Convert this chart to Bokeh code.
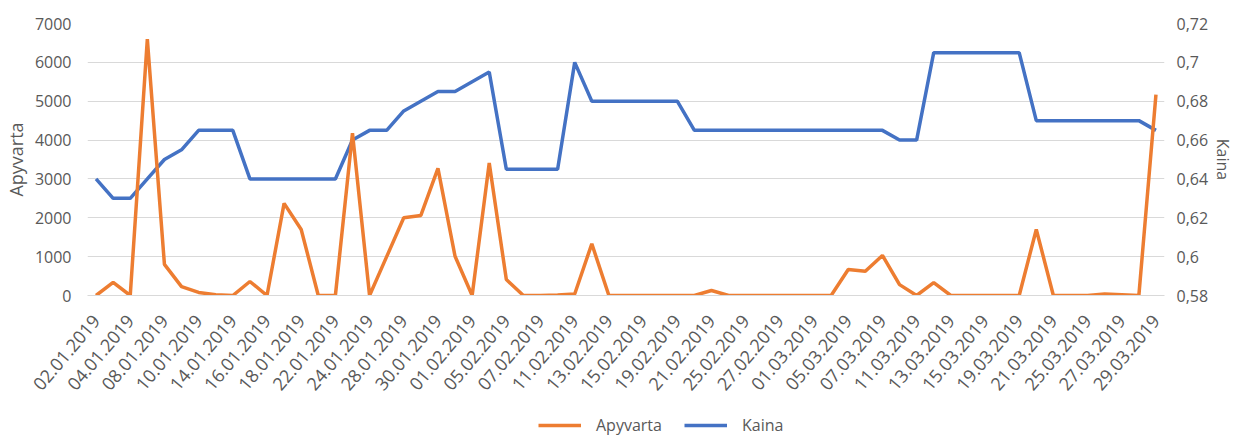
from bokeh.plotting import figure
from bokeh.layouts import column
from bokeh.models import (Range1d, LinearAxis, FixedTicker, CustomJSTickFormatter,
                          Legend, LegendItem, Title)
from bokeh.embed import file_html
from bokeh.resources import INLINE

dates = ["02.01.2019","03.01.2019","04.01.2019","07.01.2019","08.01.2019","09.01.2019",
         "10.01.2019","11.01.2019","14.01.2019","15.01.2019","16.01.2019","17.01.2019",
         "18.01.2019","21.01.2019","22.01.2019","23.01.2019","24.01.2019","25.01.2019",
         "28.01.2019","29.01.2019","30.01.2019","31.01.2019","01.02.2019","04.02.2019",
         "05.02.2019","06.02.2019","07.02.2019","08.02.2019","11.02.2019","12.02.2019",
         "13.02.2019","14.02.2019","15.02.2019","18.02.2019","19.02.2019","20.02.2019",
         "21.02.2019","22.02.2019","25.02.2019","26.02.2019","27.02.2019","28.02.2019",
         "01.03.2019","04.03.2019","05.03.2019","06.03.2019","07.03.2019","08.03.2019",
         "11.03.2019","12.03.2019","13.03.2019","14.03.2019","15.03.2019","18.03.2019",
         "19.03.2019","20.03.2019","21.03.2019","22.03.2019","25.03.2019","26.03.2019",
         "27.03.2019","28.03.2019","29.03.2019"]

apyvarta = [0, 340, 0, 6600, 800, 230, 80, 20, 0, 360,
            0, 2370, 1700, 0, 0, 4180, 0, 1000, 2000, 2060,
            3270, 1010, 0, 3410, 410, 0, 0, 10, 40, 1330,
            0, 0, 0, 0, 0, 0, 130, 0, 0, 0,
            0, 0, 0, 0, 670, 625, 1030, 280, 0, 330,
            0, 0, 0, 0, 0, 1700, 0, 0, 0, 40,
            20, 0, 5170]

kaina = [0.64, 0.63, 0.63, 0.64, 0.65, 0.655, 0.665, 0.665, 0.665, 0.64,
         0.64, 0.64, 0.64, 0.64, 0.64, 0.66, 0.665, 0.665, 0.675, 0.68,
         0.685, 0.685, 0.69, 0.695, 0.645, 0.645, 0.645, 0.645, 0.70, 0.68,
         0.68, 0.68, 0.68, 0.68, 0.68, 0.665, 0.665, 0.665, 0.665, 0.665,
         0.665, 0.665, 0.665, 0.665, 0.665, 0.665, 0.665, 0.66, 0.66, 0.705,
         0.705, 0.705, 0.705, 0.705, 0.705, 0.67, 0.67, 0.67, 0.67, 0.67,
         0.67, 0.67, 0.665]

left_ticks = [0, 1000, 2000, 3000, 4000, 5000, 6000, 7000]
right_ticks = [0.58, 0.60, 0.62, 0.64, 0.66, 0.68, 0.70, 0.72]
series_names = ["Apyvarta", "Kaina"]

ORANGE = "#ED7D31"
BLUE = "#4472C4"
GREY = "#595959"
FONT = "Open Sans"
LW = 3.5

x = list(range(len(dates)))

p = figure(width=1235, height=405, output_backend="svg", toolbar_location=None,
           x_range=Range1d(-0.5, len(dates) - 0.5),
           y_range=Range1d(left_ticks[0], left_ticks[-1]),
           min_border_left=79, min_border_right=68, min_border_top=23,
           min_border_bottom=110)
p.extra_y_ranges = {"kaina": Range1d(right_ticks[0], right_ticks[-1])}
p.outline_line_color = None
p.background_fill_color = "white"

p.line(x, kaina, y_range_name="kaina", line_color=BLUE, line_width=LW)
p.line(x, apyvarta, line_color=ORANGE, line_width=LW)

p.xgrid.grid_line_color = None
p.ygrid.grid_line_color = "#D9D9D9"
p.ygrid.grid_line_width = 1


def style(ax):
    ax.axis_line_color = None
    ax.major_tick_line_color = None
    ax.minor_tick_line_color = None
    ax.major_tick_out = 0
    ax.major_tick_in = 0
    ax.minor_tick_out = 0
    ax.minor_tick_in = 0
    ax.major_label_text_color = GREY
    ax.major_label_text_font = FONT
    ax.major_label_text_font_size = "16px"
    ax.axis_label_text_color = GREY
    ax.axis_label_text_font = FONT
    ax.axis_label_text_font_size = "18px"
    ax.axis_label_text_font_style = "normal"


ya = p.yaxis[0]
ya.ticker = FixedTicker(ticks=left_ticks)
ya.axis_label = series_names[0]
style(ya)
ya.major_label_standoff = 16
ya.axis_label_standoff = 4

ra = LinearAxis(y_range_name="kaina",
                ticker=FixedTicker(ticks=right_ticks),
                formatter=CustomJSTickFormatter(
                    code="return tick.toFixed(2).replace(/0$/, '').replace('.', ',');"))
style(ra)
ra.major_label_standoff = 12
p.add_layout(ra, "right")
p.add_layout(Title(text=series_names[1], align="center", text_font=FONT,
                   text_font_size="16px", text_color=GREY, text_font_style="normal",
                   standoff=0, offset=0), "right")

xa = p.xaxis[0]
xa.ticker = FixedTicker(ticks=x[::2])
xa.major_label_overrides = {i: dates[i] for i in x[::2]}
style(xa)
xa.axis_line_color = "#D9D9D9"
xa.major_label_orientation = 0.87
xa.major_label_standoff = 22
xa.major_label_text_font_size = "18px"

# legend strip below the chart (its lines lie outside its own y range, so only
# the legend swatches show)
lg = figure(width=1235, height=32, output_backend="svg", toolbar_location=None,
            x_range=Range1d(-0.5, len(dates) - 0.5), y_range=Range1d(-20000, -10000),
            x_axis_type=None, y_axis_type=None, min_border=0)
lg.outline_line_color = None
lg.xgrid.grid_line_color = None
lg.ygrid.grid_line_color = None
la = lg.line(x, apyvarta, line_color=ORANGE, line_width=LW)
lk = lg.line(x, kaina, line_color=BLUE, line_width=LW)
legend = Legend(items=[LegendItem(label=series_names[0], renderers=[la]),
                       LegendItem(label=series_names[1], renderers=[lk])],
                orientation="horizontal", location=(451, 1),
                label_text_font=FONT, label_text_font_size="16px",
                label_text_color=GREY, glyph_width=43, glyph_height=16,
                spacing=22, label_standoff=15, border_line_color=None,
                background_fill_alpha=0, margin=0, padding=4)
lg.add_layout(legend, "center")

layout = column(p, lg, spacing=0)
open("out.html", "w").write(file_html(layout, INLINE))
